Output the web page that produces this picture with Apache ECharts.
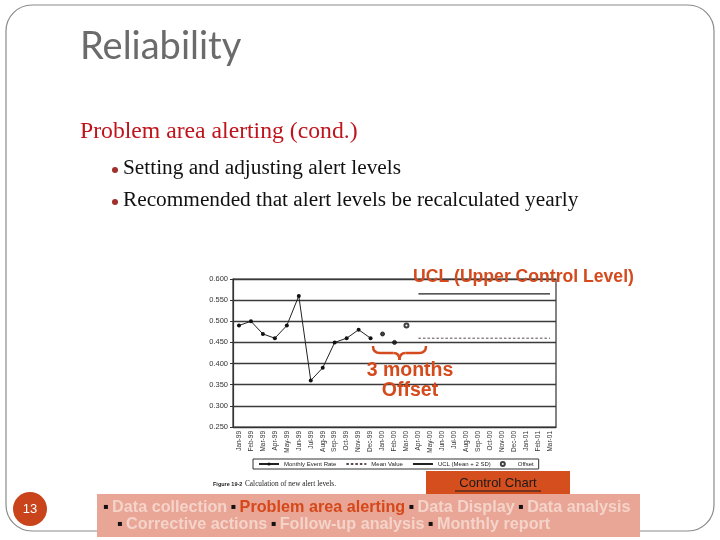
<!DOCTYPE html>
<html>
<head>
<meta charset="utf-8">
<script src="https://cdn.jsdelivr.net/npm/echarts@6/dist/echarts.min.js"></script>
<style>
  html, body { margin: 0; padding: 0; background: #fff; }
  #chart { width: 720px; height: 540px; }
</style>
</head>
<body>
<div id="chart"></div>
<script>
// months on the x axis
const months = ['Jan-99','Feb-99','Mar-99','Apr-99','May-99','Jun-99','Jul-99','Aug-99','Sep-99','Oct-99','Nov-99','Dec-99',
  'Jan-00','Feb-00','Mar-00','Apr-00','May-00','Jun-00','Jul-00','Aug-00','Sep-00','Oct-00','Nov-00','Dec-00',
  'Jan-01','Feb-01','Mar-01'];
// monthly event rate Jan-99..Dec-99
const eventRate = [0.49, 0.50, 0.47, 0.46, 0.49, 0.56, 0.36, 0.39, 0.45, 0.46, 0.48, 0.46];
// 3 months offset Jan-00..Mar-00
const offsetMonths = ['Jan-00', 'Feb-00', 'Mar-00'];
const offsetValues = [0.47, 0.45, 0.49];
// new alert levels from Apr-00
const levelStart = 'Apr-00';
const meanValue = 0.46;
const uclValue = 0.565;
const yTicks = [0.25, 0.30, 0.35, 0.40, 0.45, 0.50, 0.55, 0.60];

const rateData = months.map((m, i) => i < eventRate.length ? eventRate[i] : null);
const offsetData = months.map(m => {
  const k = offsetMonths.indexOf(m);
  if (k < 0) return null;
  return k === offsetMonths.length - 1 ? offsetValues[k] : { value: offsetValues[k], symbol: 'circle' };
});
const startIdx = months.indexOf(levelStart);
const meanData = months.map((m, i) => i >= startIdx ? meanValue : null);
const uclData = months.map((m, i) => i >= startIdx ? uclValue : null);

const chart = echarts.init(document.getElementById('chart'));
const orange = '#d44a1c';
const narrow = '"Liberation Sans Narrow", "Liberation Sans"';

// horizontal curly brace under the offset months
function brace(x1, x2, y, h) {
  const mid = (x1 + x2) / 2;
  const st = { fill: 'none', stroke: orange, lineWidth: 2.5 };
  const q = (ax, ay, cx, cy, bx, by) => ({ type: 'bezierCurve', z: 10, style: st,
    shape: { x1: ax, y1: ay, cpx1: cx, cpy1: cy, x2: bx, y2: by } });
  return [
    q(x1, y, x1, y + h / 2, x1 + 7, y + h / 2),
    { type: 'line', z: 10, style: st, shape: { x1: x1 + 7, y1: y + h / 2, x2: mid - 6, y2: y + h / 2 } },
    q(mid - 6, y + h / 2, mid, y + h / 2, mid, y + h),
    q(mid, y + h, mid, y + h / 2, mid + 6, y + h / 2),
    { type: 'line', z: 10, style: st, shape: { x1: mid + 6, y1: y + h / 2, x2: x2 - 7, y2: y + h / 2 } },
    q(x2 - 7, y + h / 2, x2, y + h / 2, x2, y)
  ];
}

chart.setOption({
  animation: false,
  grid: { left: 233, right: 164, top: 279, bottom: 113, show: true, borderColor: '#333', borderWidth: 1.2 },
  legend: {
    left: 253, top: 459,
    padding: [2, 5],
    borderColor: '#333', borderWidth: 1,
    itemWidth: 20, itemHeight: 4, itemGap: 9,
    textStyle: { fontSize: 6, color: '#222', fontFamily: narrow },
    data: [
      'Monthly Event Rate',
      { name: 'Mean Value', itemStyle: { opacity: 0 } },
      { name: 'UCL (Mean + 2 SD)', itemStyle: { opacity: 0 } },
      { name: 'Offset', icon: 'emptyCircle' }
    ]
  },
  xAxis: {
    type: 'category',
    data: months,
    axisLine: { lineStyle: { color: '#333', width: 1.2 } },
    axisTick: { length: 3, lineStyle: { color: '#333' } },
    axisLabel: { rotate: 90, fontSize: 6.5, color: '#333', margin: 4, interval: 0, fontFamily: 'Liberation Sans' }
  },
  yAxis: {
    type: 'value',
    min: yTicks[0], max: yTicks[yTicks.length - 1], interval: 0.05,
    axisLine: { show: true, lineStyle: { color: '#333', width: 1.2 } },
    axisTick: { show: true, length: 3, lineStyle: { color: '#333' } },
    axisLabel: { fontSize: 7.5, color: '#333', margin: 5, fontFamily: 'Liberation Sans', formatter: v => v.toFixed(3) },
    splitLine: { lineStyle: { color: '#3a3a3a', width: 1.3 } }
  },
  series: [
    {
      name: 'Monthly Event Rate', type: 'line', data: rateData,
      symbol: 'circle', symbolSize: 4,
      lineStyle: { color: '#222', width: 1 }, itemStyle: { color: '#111' }
    },
    {
      name: 'Mean Value', type: 'line', data: meanData, symbol: 'none',
      lineStyle: { color: '#5a4a4a', width: 1, type: [2.5, 2] }, itemStyle: { color: '#5a4a4a' }
    },
    {
      name: 'UCL (Mean + 2 SD)', type: 'line', data: uclData, symbol: 'none',
      lineStyle: { color: '#222', width: 1.3 }, itemStyle: { color: '#222' }
    },
    {
      name: 'Offset', type: 'scatter', data: offsetData,
      symbol: 'emptyCircle', symbolSize: 4,
      itemStyle: { color: '#111', borderColor: '#111', borderWidth: 1 }
    }
  ],
  graphic: [
    // slide frame
    { type: 'rect', shape: { x: 6, y: 5, width: 708, height: 526, r: 26 },
      style: { fill: 'none', stroke: '#8a8a8a', lineWidth: 1.2 }, z: -1 },
    { type: 'text', style: { text: 'Reliability', x: 80, y: 47, font: '38px Lato', fill: '#6b6b6b', textVerticalAlign: 'middle' } },
    { type: 'text', style: { text: 'Problem area alerting (cond.)', x: 80, y: 132, font: '23.7px "Liberation Serif"', fill: '#c0141c', textVerticalAlign: 'middle' } },
    { type: 'circle', shape: { cx: 115, cy: 170, r: 3 }, style: { fill: '#a0302a' } },
    { type: 'text', style: { text: 'Setting and adjusting alert levels', x: 123, y: 168, font: '21.3px "Liberation Serif"', fill: '#111', textVerticalAlign: 'middle' } },
    { type: 'circle', shape: { cx: 115, cy: 202, r: 3 }, style: { fill: '#a0302a' } },
    { type: 'text', style: { text: 'Recommended that alert levels be recalculated yearly', x: 123, y: 200, font: '21.3px "Liberation Serif"', fill: '#111', textVerticalAlign: 'middle' } },
    // annotations
    { type: 'text', style: { text: 'UCL (Upper Control Level)', x: 413, y: 277, font: 'bold 17.6px "Liberation Sans"', fill: orange, textVerticalAlign: 'middle' }, z: 10 },
    ...brace(373, 426, 346, 14),
    { type: 'text', style: { text: '3 months', x: 410, y: 371, font: 'bold 19.5px "Liberation Sans"', fill: orange, textAlign: 'center', textVerticalAlign: 'middle' }, z: 10 },
    { type: 'text', style: { text: 'Offset', x: 410, y: 391, font: 'bold 19.5px "Liberation Sans"', fill: orange, textAlign: 'center', textVerticalAlign: 'middle' }, z: 10 },
    // figure caption
    { type: 'text', style: { text: 'Figure 19-2', x: 213, y: 484, font: 'bold 5.5px "Liberation Sans"', fill: '#222', textVerticalAlign: 'middle' } },
    { type: 'text', style: { text: 'Calculation of new alert levels.', x: 245, y: 484, font: '7.3px "Liberation Serif"', fill: '#222', textVerticalAlign: 'middle' } },
    // control chart label
    { type: 'rect', shape: { x: 426, y: 471, width: 144, height: 24 }, style: { fill: '#d44e1e' } },
    { type: 'text', style: { text: 'Control Chart', x: 498, y: 483, font: '13px "Liberation Sans"', fill: '#1a1a1a', textAlign: 'center', textVerticalAlign: 'middle' } },
    { type: 'line', shape: { x1: 455, y1: 491, x2: 541, y2: 491 }, style: { stroke: '#1a1a1a', lineWidth: 1 } },
    // page number
    { type: 'circle', shape: { cx: 30, cy: 509, r: 17 }, style: { fill: '#c9431b' } },
    { type: 'text', style: { text: '13', x: 30, y: 509, font: '13px "Liberation Sans"', fill: '#fff', textAlign: 'center', textVerticalAlign: 'middle' } },
    // process bar
    { type: 'rect', shape: { x: 97, y: 494, width: 543, height: 43 }, style: { fill: '#e9a595' }, z: 5 },
    { type: 'text', z: 6, style: {
        text: '{b|▪} {t|Data collection} {b|▪} {h|Problem area alerting} {b|▪} {t|Data Display} {b|▪} {t|Data analysis}',
        x: 103, y: 508, textVerticalAlign: 'middle',
        rich: {
          b: { font: 'bold 16.2px "Liberation Sans"', fill: '#111' },
          t: { font: 'bold 16.2px "Liberation Sans"', fill: '#f4d4ca' },
          h: { font: 'bold 16.2px "Liberation Sans"', fill: '#d4481a' }
        } } },
    { type: 'text', z: 6, style: {
        text: '{b|▪} {t|Corrective actions} {b|▪} {t|Follow-up analysis} {b|▪} {t|Monthly report}',
        x: 117, y: 525, textVerticalAlign: 'middle',
        rich: {
          b: { font: 'bold 16.2px "Liberation Sans"', fill: '#111' },
          t: { font: 'bold 16.2px "Liberation Sans"', fill: '#f4d4ca' }
        } } }
  ]
});
</script>
</body>
</html>
